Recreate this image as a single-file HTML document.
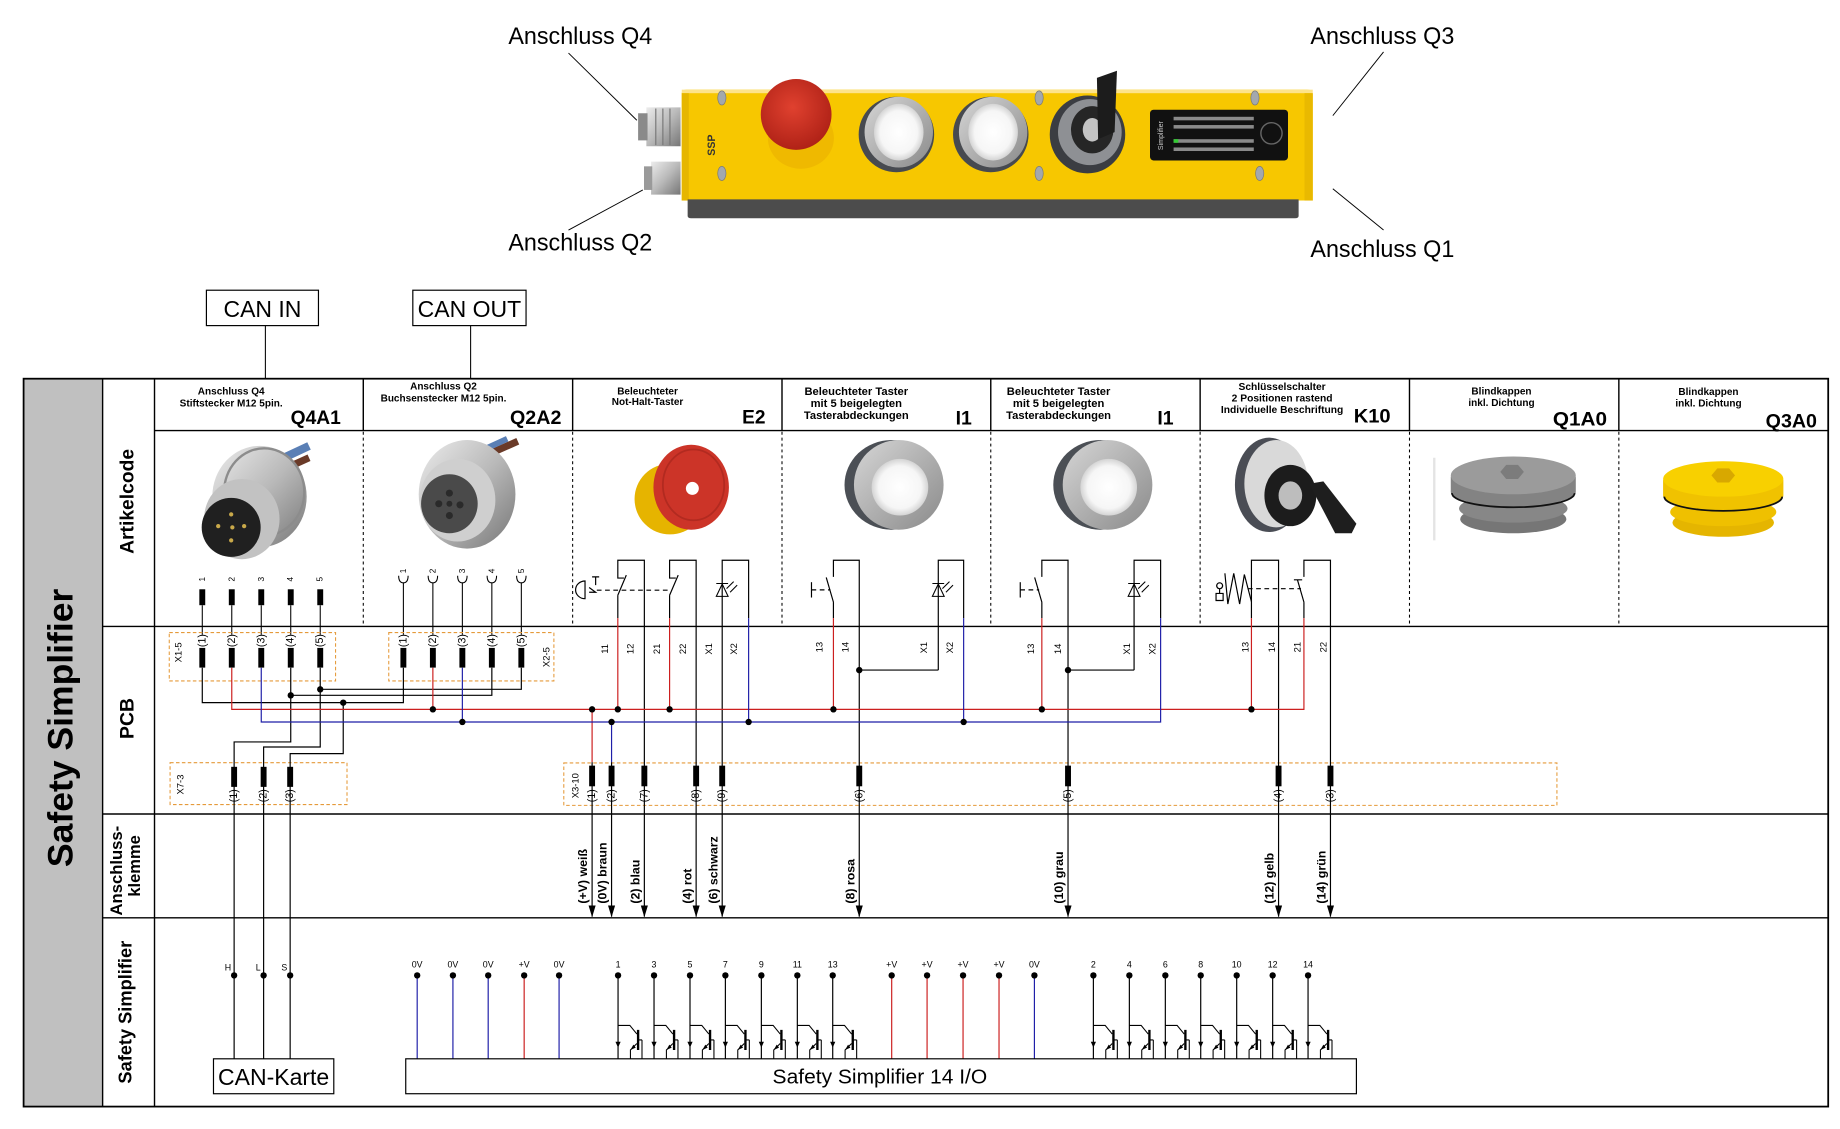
<!DOCTYPE html>
<html><head><meta charset="utf-8"><style>
html,body{margin:0;padding:0;background:#fff;}
svg{display:block;}
text{font-family:"Liberation Sans",Arial,sans-serif;}
</style></head><body>
<svg xmlns="http://www.w3.org/2000/svg" width="1840" height="1129" viewBox="0 0 1560 957" preserveAspectRatio="none">
<defs>
 <radialGradient id="red" cx="0.45" cy="0.4" r="0.6"><stop offset="0" stop-color="#e0412f"/><stop offset="1" stop-color="#b02217"/></radialGradient>
 <radialGradient id="wht" cx="0.5" cy="0.5" r="0.5"><stop offset="0" stop-color="#ffffff"/><stop offset="0.75" stop-color="#f6f6f6"/><stop offset="1" stop-color="#d4d4d4"/></radialGradient>
 <linearGradient id="ring" x1="0" y1="0" x2="1" y2="1"><stop offset="0" stop-color="#d6d6d6"/><stop offset="1" stop-color="#8a8a8a"/></linearGradient>
 <linearGradient id="silver" x1="0" y1="0" x2="1" y2="1"><stop offset="0" stop-color="#ececec"/><stop offset="0.5" stop-color="#b9b9b9"/><stop offset="1" stop-color="#767676"/></linearGradient>
</defs>
<rect width="1560" height="957" fill="#fff"/>

<!-- top labels -->
<g font-size="20" fill="#000">
<text x="431" y="37.5" textLength="122" lengthAdjust="spacingAndGlyphs">Anschluss Q4</text>
<text x="1111" y="37.5" textLength="122" lengthAdjust="spacingAndGlyphs">Anschluss Q3</text>
<text x="431" y="212.5" textLength="122" lengthAdjust="spacingAndGlyphs">Anschluss Q2</text>
<text x="1111" y="218" textLength="122" lengthAdjust="spacingAndGlyphs">Anschluss Q1</text>
</g>
<g stroke="#000" stroke-width="0.8">
<line x1="482" y1="45" x2="540" y2="102"/>
<line x1="1173" y1="44" x2="1130" y2="98"/>
<line x1="482" y1="195" x2="545" y2="161"/>
<line x1="1173" y1="195" x2="1130" y2="160"/>
</g>

<!-- device -->
<g>
<path d="M548,91 h29 v33 h-29 z" fill="url(#silver)"/>
<rect x="541" y="96" width="8" height="23" fill="#8a8a8a"/>
<g stroke="#777" stroke-width="1"><line x1="556" y1="92" x2="556" y2="123"/><line x1="562" y1="92" x2="562" y2="123"/><line x1="568" y1="92" x2="568" y2="123"/></g>
<path d="M552,137 h25 v28 h-25 z" fill="url(#silver)"/>
<rect x="546" y="141" width="7" height="20" fill="#9a9a9a"/>
<path d="M578,79 Q578,76 582,76 H1108 Q1113,76 1113,80 V170 H578 Z" fill="#f7c700"/>
<rect x="578" y="76" width="535" height="3" fill="#fde38a"/>
<rect x="1106" y="79" width="7" height="91" fill="#e9b900"/>
<rect x="578" y="79" width="6" height="91" fill="#e6b600"/>
<path d="M583,169 H1101 V183 Q1101,185 1098,185 H586 Q583,185 583,183 Z" fill="#4c4c4c"/>
<text transform="translate(606,123) rotate(-90)" font-size="9" font-weight="bold" fill="#333" text-anchor="middle">SSP</text>
<g fill="#a3a8ad" stroke="#7a7a7a" stroke-width="0.6">
<ellipse cx="612" cy="83" rx="3.5" ry="6"/><ellipse cx="612" cy="147" rx="3.5" ry="6"/>
<ellipse cx="881" cy="83" rx="3.5" ry="6"/><ellipse cx="881" cy="147" rx="3.5" ry="6"/>
<ellipse cx="1064" cy="83" rx="3.5" ry="6"/><ellipse cx="1068" cy="147" rx="3.5" ry="6"/>
</g>
<ellipse cx="679" cy="117" rx="28" ry="26" fill="#efb900"/>
<ellipse cx="675" cy="97" rx="30" ry="30" fill="url(#red)"/>
<ellipse cx="760" cy="114" rx="32" ry="32" fill="#474a50"/>
<ellipse cx="762" cy="112" rx="29" ry="30" fill="url(#ring)"/>
<ellipse cx="762" cy="112" rx="21" ry="24" fill="url(#wht)"/>
<ellipse cx="840" cy="114" rx="32" ry="32" fill="#474a50"/>
<ellipse cx="842" cy="112" rx="29" ry="30" fill="url(#ring)"/>
<ellipse cx="842" cy="112" rx="21" ry="24" fill="url(#wht)"/>
<ellipse cx="922" cy="114" rx="32" ry="33" fill="#3b3d42"/>
<ellipse cx="924" cy="112" rx="27" ry="28" fill="#8e9094"/>
<ellipse cx="926" cy="110" rx="18" ry="20" fill="#262626"/>
<ellipse cx="926" cy="110" rx="8" ry="10" fill="#c4c4c4"/>
<path d="M930,66 L947,60 L945,112 L931,118 Z" fill="#1c1c1c"/>
<rect x="975" y="93" width="117" height="43" rx="3" fill="#111"/>
<g fill="#8a8a8a">
<rect x="995" y="99" width="68" height="3"/>
<rect x="995" y="106" width="68" height="3"/>
<rect x="995" y="118" width="68" height="3"/>
<rect x="995" y="125" width="68" height="3"/>
</g>
<rect x="995" y="118" width="4" height="3" fill="#3c3"/>
<circle cx="1078" cy="113" r="9" fill="none" stroke="#666" stroke-width="1.2"/>
<text transform="translate(986,115) rotate(-90)" font-size="6" fill="#ccc" text-anchor="middle">Simplifier</text>
</g>

<!-- CAN boxes -->
<rect x="175" y="246" width="95" height="30" fill="none" stroke="#000" stroke-width="1"/>
<text x="222.5" y="268.5" font-size="19.5" text-anchor="middle">CAN IN</text>
<rect x="350" y="246" width="96" height="30" fill="none" stroke="#000" stroke-width="1"/>
<text x="398" y="268.5" font-size="19.5" text-anchor="middle">CAN OUT</text>
<g stroke="#000" stroke-width="0.9"><line x1="225" y1="276" x2="225" y2="321"/><line x1="399" y1="276" x2="399" y2="321"/></g>

<!-- table frame -->
<rect x="20" y="321" width="67" height="617" fill="#c0c0c0"/>
<g stroke="#000" stroke-width="1.2" fill="none">
<rect x="20" y="321" width="1530" height="617" stroke-width="1.5"/>
<line x1="87" y1="321" x2="87" y2="938"/>
<line x1="131" y1="321" x2="131" y2="938"/>
<line x1="131" y1="365" x2="1550" y2="365"/>
<line x1="87" y1="531" x2="1550" y2="531"/>
<line x1="87" y1="690" x2="1550" y2="690"/>
<line x1="87" y1="778" x2="1550" y2="778"/>
<line x1="308" y1="321" x2="308" y2="365"/>
<line x1="485.5" y1="321" x2="485.5" y2="365"/>
<line x1="663" y1="321" x2="663" y2="365"/>
<line x1="840" y1="321" x2="840" y2="365"/>
<line x1="1017.5" y1="321" x2="1017.5" y2="365"/>
<line x1="1195" y1="321" x2="1195" y2="365"/>
<line x1="1372.5" y1="321" x2="1372.5" y2="365"/>
</g>
<g stroke="#000" stroke-width="0.9" stroke-dasharray="2.5 2.5">
<line x1="308" y1="366" x2="308" y2="529"/>
<line x1="485.5" y1="366" x2="485.5" y2="529"/>
<line x1="663" y1="366" x2="663" y2="529"/>
<line x1="840" y1="366" x2="840" y2="529"/>
<line x1="1017.5" y1="366" x2="1017.5" y2="529"/>
<line x1="1195" y1="366" x2="1195" y2="529"/>
<line x1="1372.5" y1="366" x2="1372.5" y2="529"/>
</g>

<!-- row labels -->
<g font-weight="bold" text-anchor="middle" dominant-baseline="central">
<text transform="translate(52,617) rotate(-90)" font-size="29.5" textLength="236" lengthAdjust="spacingAndGlyphs">Safety Simplifier</text>
<text transform="translate(108,425) rotate(-90)" font-size="16.5" textLength="89" lengthAdjust="spacingAndGlyphs">Artikelcode</text>
<text transform="translate(108,609) rotate(-90)" font-size="16.5">PCB</text>
<text transform="translate(99,738) rotate(-90)" font-size="14" textLength="76" lengthAdjust="spacingAndGlyphs">Anschluss-</text>
<text transform="translate(114.5,734) rotate(-90)" font-size="14">klemme</text>
<text transform="translate(106,858) rotate(-90)" font-size="15.5" textLength="121" lengthAdjust="spacingAndGlyphs">Safety Simplifier</text>
</g>

<!-- header texts -->
<g font-weight="bold" text-anchor="middle" font-size="8.5">
<text x="196" y="334.5">Anschluss Q4</text>
<text x="196" y="344.5">Stiftstecker M12 5pin.</text>
<text x="376" y="330">Anschluss Q2</text>
<text x="376" y="340.5">Buchsenstecker M12 5pin.</text>
<text x="549" y="334.5">Beleuchteter</text>
<text x="549" y="343.5">Not-Halt-Taster</text>
<text x="726" y="335" font-size="9.5">Beleuchteter Taster</text>
<text x="726" y="345" font-size="9.5">mit 5 beigelegten</text>
<text x="726" y="355" font-size="9.5">Tasterabdeckungen</text>
<text x="897.5" y="335" font-size="9.5">Beleuchteter Taster</text>
<text x="897.5" y="345" font-size="9.5">mit 5 beigelegten</text>
<text x="897.5" y="355" font-size="9.5">Tasterabdeckungen</text>
<text x="1087" y="330.5" font-size="8.7">Schlüsselschalter</text>
<text x="1087" y="340.5" font-size="8.7">2 Positionen rastend</text>
<text x="1087" y="350" font-size="8.7">Individuelle Beschriftung</text>
<text x="1273" y="334.5">Blindkappen</text>
<text x="1273" y="344">inkl. Dichtung</text>
<text x="1448.5" y="335">Blindkappen</text>
<text x="1448.5" y="344.5">inkl. Dichtung</text>
</g>
<g font-weight="bold" text-anchor="end" font-size="16.5">
<text x="289" y="359.5" textLength="42.6" lengthAdjust="spacingAndGlyphs">Q4A1</text>
<text x="476" y="359.5" textLength="43.6" lengthAdjust="spacingAndGlyphs">Q2A2</text>
<text x="649" y="359" textLength="19.8" lengthAdjust="spacingAndGlyphs">E2</text>
<text x="824" y="360">I1</text>
<text x="995" y="360">I1</text>
<text x="1179" y="358" textLength="31.3" lengthAdjust="spacingAndGlyphs">K10</text>
<text x="1362.5" y="360.5" textLength="45.9" lengthAdjust="spacingAndGlyphs">Q1A0</text>
<text x="1540.5" y="362.5" textLength="43.5" lengthAdjust="spacingAndGlyphs">Q3A0</text>
</g>

<!-- artikel images -->
<path d="M232,392 L262,378" stroke="#5a7fb5" stroke-width="7"/>
<path d="M240,398 L262,388" stroke="#6a3a28" stroke-width="6"/>
<ellipse cx="220" cy="421" rx="40" ry="43" fill="url(#silver)"/>
<ellipse cx="224" cy="417" rx="34" ry="37" fill="none" stroke="#8c8c8c" stroke-width="2"/>
<ellipse cx="205" cy="440" rx="32" ry="34" fill="#c2c2c2"/>
<ellipse cx="196" cy="447" rx="25" ry="25" fill="#202020"/>
<g fill="#c9a94a"><circle cx="196" cy="436" r="1.8"/><circle cx="185" cy="446" r="1.8"/><circle cx="197" cy="447" r="1.8"/><circle cx="207" cy="446" r="1.8"/><circle cx="196" cy="458" r="1.8"/></g>
<path d="M412,386 L439,374" stroke="#6a3a28" stroke-width="6"/>
<path d="M408,382 L430,372" stroke="#5a7fb5" stroke-width="5"/>
<ellipse cx="396" cy="419" rx="41" ry="46" fill="url(#silver)"/>
<ellipse cx="388" cy="424" rx="32" ry="35" fill="#cfcfcf"/>
<ellipse cx="381" cy="427" rx="24" ry="25" fill="#4a4a4a"/>
<g fill="#2a2a2a"><circle cx="381" cy="418" r="3"/><circle cx="372" cy="427" r="3"/><circle cx="390" cy="428" r="3"/><circle cx="381" cy="437" r="3"/><circle cx="381" cy="427" r="2.5"/></g>
<ellipse cx="568" cy="423" rx="30" ry="30" fill="#e6b400"/>
<ellipse cx="586" cy="413" rx="32" ry="36" fill="#cc3428"/>
<ellipse cx="588" cy="411" rx="26" ry="30" fill="none" stroke="#b22a20" stroke-width="1.5"/>
<circle cx="587" cy="414" r="5.5" fill="#fff"/>
<ellipse cx="756" cy="411" rx="40" ry="38" fill="#4b4f55"/>
<ellipse cx="762" cy="411" rx="38" ry="38" fill="url(#ring)"/>
<ellipse cx="763" cy="413" rx="24" ry="24" fill="url(#wht)"/>
<ellipse cx="933" cy="411" rx="40" ry="38" fill="#4b4f55"/>
<ellipse cx="939" cy="411" rx="38" ry="38" fill="url(#ring)"/>
<ellipse cx="940" cy="413" rx="24" ry="24" fill="url(#wht)"/>
<ellipse cx="1076" cy="411" rx="29" ry="40" fill="#4a4d55"/>
<ellipse cx="1082" cy="410" rx="27" ry="37" fill="#d9d9d9"/>
<ellipse cx="1094" cy="420" rx="22" ry="26" fill="#1c1c1c"/>
<ellipse cx="1094" cy="420" rx="10" ry="12" fill="#bdbdbd"/>
<path d="M1110,410 L1122,408 L1150,444 L1146,452 L1132,452 Z" fill="#1e1e1e"/>
<line x1="1216" y1="388" x2="1216" y2="458" stroke="#e4e4e4" stroke-width="2"/>
<ellipse cx="1283" cy="440" rx="45" ry="12" fill="#767676"/>
<ellipse cx="1283" cy="431" rx="46" ry="12" fill="#878787"/>
<path d="M1230,404 V417 A53,12 0 0 0 1336,417 V404 Z" fill="#838383"/>
<path d="M1231,418 A52,12 0 0 0 1335,418" fill="none" stroke="#111" stroke-width="1.5"/>
<ellipse cx="1283" cy="403" rx="53" ry="16" fill="#9b9b9b"/>
<polygon points="1272,400 1277,394 1287,394 1292,400 1287,406 1277,406" fill="#7c7c7c"/>
<ellipse cx="1461" cy="443" rx="43" ry="12" fill="#e5b500"/>
<ellipse cx="1461" cy="434" rx="45" ry="12" fill="#efc000"/>
<path d="M1410,407 V420 A51,12 0 0 0 1512,420 V407 Z" fill="#f0c200"/>
<path d="M1411,421 A50,12 0 0 0 1511,421" fill="none" stroke="#111" stroke-width="1.5"/>
<ellipse cx="1461" cy="406" rx="51" ry="15" fill="#f8d000"/>
<polygon points="1451,403 1456,397 1466,397 1471,403 1466,409 1456,409" fill="#d8a800"/>

<!-- Q4A1 / Q2A2 pins artikel -->
<g font-size="7" text-anchor="middle" dominant-baseline="central">
<text transform="translate(171.5,491) rotate(-90)">1</text>
<text transform="translate(196.5,491) rotate(-90)">2</text>
<text transform="translate(221.5,491) rotate(-90)">3</text>
<text transform="translate(246.5,491) rotate(-90)">4</text>
<text transform="translate(271.5,491) rotate(-90)">5</text>
<text transform="translate(342,484) rotate(-90)">1</text>
<text transform="translate(367,484) rotate(-90)">2</text>
<text transform="translate(392,484) rotate(-90)">3</text>
<text transform="translate(417,484) rotate(-90)">4</text>
<text transform="translate(442,484) rotate(-90)">5</text>
</g>
<g fill="#000">
<rect x="169" y="499.5" width="5" height="13.5"/><rect x="194" y="499.5" width="5" height="13.5"/><rect x="219" y="499.5" width="5" height="13.5"/><rect x="244" y="499.5" width="5" height="13.5"/><rect x="269" y="499.5" width="5" height="13.5"/>
</g>
<g stroke="#000" stroke-width="0.9" fill="none">
<path d="M171.5,513 V538 M196.5,513 V538 M221.5,513 V538 M246.5,513 V538 M271.5,513 V538"/>
<path d="M338,488 Q338,494 342,494 Q346,494 346,488 M363,488 Q363,494 367,494 Q371,494 371,488 M388,488 Q388,494 392,494 Q396,494 396,488 M413,488 Q413,494 417,494 Q421,494 421,488 M438,488 Q438,494 442,494 Q446,494 446,488"/>
<path d="M342,494 V538 M367,494 V538 M392,494 V538 M417,494 V538 M442,494 V538"/>
</g>

<!-- orange dashed boxes -->
<g fill="none" stroke="#e59a3a" stroke-width="0.9" stroke-dasharray="3 2">
<rect x="143.5" y="536.2" width="141" height="41"/>
<rect x="329.6" y="536.2" width="140" height="41"/>
<rect x="144.2" y="646.5" width="150" height="35.5"/>
<rect x="478" y="646.7" width="842" height="36"/>
</g>
<g font-size="8" text-anchor="middle" dominant-baseline="central">
<text transform="translate(151,553) rotate(-90)">X1-5</text>
<text transform="translate(463,557) rotate(-90)">X2-5</text>
<text transform="translate(152.6,665) rotate(-90)">X7-3</text>
<text transform="translate(487.5,666) rotate(-90)">X3-10</text>
</g>

<!-- PCB wiring -->
<g fill="none" stroke-width="1">
<g stroke="#000">
<path d="M171.5,566 V595.6 H342 V566"/>
<path d="M246.5,566 V589.4 H417 V566"/>
<path d="M271.5,566 V584.3 H442 V566"/>
<path d="M246.5,589.4 V628.9 H198.5 V897.5"/>
<path d="M271.5,584.3 V633.2 H223.5 V897.5"/>
<path d="M291,595.6 V638.8 H246 V897.5"/>
<!-- E2 -->
<path d="M546.3,777 V474.9 H523.8 V490 H529"/>
<path d="M523.8,504.6 L531,487.5 M523.8,504.6 V524"/>
<path d="M590.2,777 V474.9 H567.7 V490 H573"/>
<path d="M567.7,504.6 L575,487.5 M567.7,504.6 V524"/>
<path d="M612.3,777 V474.9 H634.7 V524"/>
<path d="M496,492.5 A8,7.5 0 0 0 496,507.5 Z"/>
<path d="M505,496 V489 M502,489 H508 M499.5,498 L505,502 L499.5,502"/>
<!-- I1 #1 -->
<path d="M728.5,777 V474.9 H706.6 V489"/>
<path d="M706.6,510.4 L700.5,489.5 M706.6,510.4 V524"/>
<path d="M688,493.5 V506.5"/>
<path d="M795.5,568 V474.9 H817 V524"/>
<path d="M728.5,568 H795.5"/>
<!-- I1 #2 -->
<path d="M905.5,777 V474.9 H883.3 V489"/>
<path d="M883.3,510.4 L877.2,489.5 M883.3,510.4 V524"/>
<path d="M865,493.5 V506.5"/>
<path d="M961.5,568 V474.9 H984 V524"/>
<path d="M905.5,568 H961.5"/>
<!-- K10 -->
<path d="M1084,777 V474.9 H1061 V524"/>
<path d="M1128,777 V474.9 H1105.5 V489"/>
<path d="M1105.5,510.4 L1100,491.5 M1097,491.5 H1104 M1105.5,510.4 V524"/>
<path d="M1038.5,486 L1041,512 L1046,486 L1051,512 L1055,487 L1061,510"/>
<path d="M1031,503 h6 v6 h-6 z M1034,503 v-4 a2.5,2.5 0 1 1 0.1,0"/>
<path d="M502,646 V777 M518.5,646 V777"/>
<path d="M524,826.8 V897.5 M554.5,826.8 V897.5 M585,826.8 V897.5 M615,826.8 V897.5 M645.5,826.8 V897.5 M676,826.8 V897.5 M706,826.8 V897.5"/>
<path d="M927,826.8 V897.5 M957.5,826.8 V897.5 M988,826.8 V897.5 M1018,826.8 V897.5 M1048.5,826.8 V897.5 M1079,826.8 V897.5 M1109,826.8 V897.5"/>
</g>
<g stroke="#000" stroke-dasharray="4 3">
<path d="M506,500.3 H569"/>
<path d="M688,500 H704"/>
<path d="M865,500 H881"/>
<path d="M1058,499 H1103"/>
</g>
<g stroke="#cc1f1f">
<path d="M196.5,566 V601.3 H1105.5 V524"/>
<path d="M367,566 V601.3"/>
<path d="M502,601.3 V646"/>
<path d="M523.8,524 V601.3 M567.7,524 V601.3 M706.6,524 V601.3 M883.3,524 V601.3 M1061,524 V601.3"/>
<path d="M444.4,826.8 V897.5 M756,826.8 V897.5 M786,826.8 V897.5 M816.5,826.8 V897.5 M847,826.8 V897.5"/>
</g>
<g stroke="#1f1fa8">
<path d="M221.5,566 V612 H984 V524"/>
<path d="M392,566 V612"/>
<path d="M518.5,612 V646"/>
<path d="M634.7,524 V612 M817,524 V612"/>
<path d="M353.7,826.8 V897.5 M384,826.8 V897.5 M413.9,826.8 V897.5 M474,826.8 V897.5 M877,826.8 V897.5"/>
</g>
</g>

<!-- LED symbols (triangle up, bar on top) -->
<g fill="none" stroke="#000" stroke-width="0.9">
<path d="M607.3,505.5 H617.3 L612.3,495 Z M607.3,494.6 H617.3 M616,499 l6,-6 M619,502 l6,-6"/>
<path d="M790.5,505.5 H800.5 L795.5,495 Z M790.5,494.6 H800.5 M799,499 l6,-6 M802,502 l6,-6"/>
<path d="M956.5,505.5 H966.5 L961.5,495 Z M956.5,494.6 H966.5 M965,499 l6,-6 M968,502 l6,-6"/>
</g>

<!-- PCB pin rects and symbols -->
<g fill="#000">
<rect x="169" y="549.2" width="5" height="16.7"/><rect x="194" y="549.2" width="5" height="16.7"/><rect x="219" y="549.2" width="5" height="16.7"/><rect x="244" y="549.2" width="5" height="16.7"/><rect x="269" y="549.2" width="5" height="16.7"/>
<rect x="339.5" y="549.2" width="5" height="16.7"/><rect x="364.5" y="549.2" width="5" height="16.7"/><rect x="389.5" y="549.2" width="5" height="16.7"/><rect x="414.5" y="549.2" width="5" height="16.7"/><rect x="439.5" y="549.2" width="5" height="16.7"/>
<rect x="196" y="650" width="5" height="17"/><rect x="221" y="650" width="5" height="17"/><rect x="243.5" y="650" width="5" height="17"/>
<rect x="499.5" y="649" width="5" height="17.5"/><rect x="516" y="649" width="5" height="17.5"/><rect x="543.8" y="649" width="5" height="17.5"/><rect x="587.7" y="649" width="5" height="17.5"/><rect x="609.8" y="649" width="5" height="17.5"/><rect x="726" y="649" width="5" height="17.5"/><rect x="903" y="649" width="5" height="17.5"/><rect x="1081.5" y="649" width="5" height="17.5"/><rect x="1125.5" y="649" width="5" height="17.5"/>
</g>
<g font-size="9" text-anchor="middle" dominant-baseline="central">
<text transform="translate(171.5,543) rotate(-90)">(1)</text>
<text transform="translate(196.5,543) rotate(-90)">(2)</text>
<text transform="translate(221.5,543) rotate(-90)">(3)</text>
<text transform="translate(246.5,543) rotate(-90)">(4)</text>
<text transform="translate(271.5,543) rotate(-90)">(5)</text>
<text transform="translate(342,543) rotate(-90)">(1)</text>
<text transform="translate(367,543) rotate(-90)">(2)</text>
<text transform="translate(392,543) rotate(-90)">(3)</text>
<text transform="translate(417,543) rotate(-90)">(4)</text>
<text transform="translate(442,543) rotate(-90)">(5)</text>
<text transform="translate(198.5,674.5) rotate(-90)">(1)</text>
<text transform="translate(223.5,674.5) rotate(-90)">(2)</text>
<text transform="translate(246,674.5) rotate(-90)">(3)</text>
<text transform="translate(502,674.5) rotate(-90)">(1)</text>
<text transform="translate(518.5,674.5) rotate(-90)">(2)</text>
<text transform="translate(546.3,674.5) rotate(-90)">(7)</text>
<text transform="translate(590.2,674.5) rotate(-90)">(8)</text>
<text transform="translate(612.3,674.5) rotate(-90)">(9)</text>
<text transform="translate(728.5,674.5) rotate(-90)">(6)</text>
<text transform="translate(905.5,674.5) rotate(-90)">(5)</text>
<text transform="translate(1084,674.5) rotate(-90)">(4)</text>
<text transform="translate(1128,674.5) rotate(-90)">(3)</text>
</g>

<!-- PCB contact labels -->
<g font-size="8" text-anchor="middle" dominant-baseline="central">
<text transform="translate(512.7,550) rotate(-90)">11</text>
<text transform="translate(534.2,550) rotate(-90)">12</text>
<text transform="translate(556.7,550) rotate(-90)">21</text>
<text transform="translate(578.6,550) rotate(-90)">22</text>
<text transform="translate(600.8,550) rotate(-90)">X1</text>
<text transform="translate(622,550) rotate(-90)">X2</text>
<text transform="translate(694.5,548.5) rotate(-90)">13</text>
<text transform="translate(716.5,548.5) rotate(-90)">14</text>
<text transform="translate(783,549) rotate(-90)">X1</text>
<text transform="translate(805,549) rotate(-90)">X2</text>
<text transform="translate(873.5,550) rotate(-90)">13</text>
<text transform="translate(896.5,550) rotate(-90)">14</text>
<text transform="translate(955,550) rotate(-90)">X1</text>
<text transform="translate(976.5,550) rotate(-90)">X2</text>
<text transform="translate(1055.6,548.5) rotate(-90)">13</text>
<text transform="translate(1078,548.5) rotate(-90)">14</text>
<text transform="translate(1099.8,548.5) rotate(-90)">21</text>
<text transform="translate(1121.7,548.5) rotate(-90)">22</text>
</g>

<!-- junction dots -->
<g fill="#000">
<circle cx="246.5" cy="589.4" r="2.7"/><circle cx="271.5" cy="584.3" r="2.7"/><circle cx="291" cy="595.6" r="2.7"/>
<circle cx="367" cy="601.3" r="2.7"/><circle cx="392" cy="612" r="2.7"/>
<circle cx="502" cy="601.3" r="2.7"/><circle cx="523.8" cy="601.3" r="2.7"/><circle cx="567.7" cy="601.3" r="2.7"/><circle cx="706.6" cy="601.3" r="2.7"/><circle cx="883.3" cy="601.3" r="2.7"/><circle cx="1061" cy="601.3" r="2.7"/>
<circle cx="518.5" cy="612" r="2.7"/><circle cx="634.7" cy="612" r="2.7"/><circle cx="817" cy="612" r="2.7"/>
<circle cx="728.5" cy="568" r="2.7"/><circle cx="905.5" cy="568" r="2.7"/>
</g>

<!-- arrows -->
<g fill="#000">
<polygon points="499,767.5 505,767.5 502,777.5"/>
<polygon points="515.5,767.5 521.5,767.5 518.5,777.5"/>
<polygon points="543.3,767.5 549.3,767.5 546.3,777.5"/>
<polygon points="587.2,767.5 593.2,767.5 590.2,777.5"/>
<polygon points="609.3,767.5 615.3,767.5 612.3,777.5"/>
<polygon points="725.5,767.5 731.5,767.5 728.5,777.5"/>
<polygon points="902.5,767.5 908.5,767.5 905.5,777.5"/>
<polygon points="1081,767.5 1087,767.5 1084,777.5"/>
<polygon points="1125,767.5 1131,767.5 1128,777.5"/>
</g>
<g font-size="10.5" font-weight="bold" dominant-baseline="central">
<text transform="translate(494.3,766) rotate(-90)">(+V) weiß</text>
<text transform="translate(510.8,766) rotate(-90)">(0V) braun</text>
<text transform="translate(538.8,766) rotate(-90)">(2) blau</text>
<text transform="translate(582.7,766) rotate(-90)">(4) rot</text>
<text transform="translate(604.8,766) rotate(-90)">(6) schwarz</text>
<text transform="translate(721,766) rotate(-90)">(8) rosa</text>
<text transform="translate(898,766) rotate(-90)">(10) grau</text>
<text transform="translate(1076.5,766) rotate(-90)">(12) gelb</text>
<text transform="translate(1120.5,766) rotate(-90)">(14) grün</text>
</g>

<!-- Safety Simplifier section -->
<g fill="#000">
<circle cx="198.5" cy="826.8" r="2.7"/><circle cx="223.5" cy="826.8" r="2.7"/><circle cx="246" cy="826.8" r="2.7"/>
<circle cx="353.7" cy="826.8" r="2.7"/><circle cx="384" cy="826.8" r="2.7"/><circle cx="413.9" cy="826.8" r="2.7"/><circle cx="444.4" cy="826.8" r="2.7"/><circle cx="474" cy="826.8" r="2.7"/>
<circle cx="524" cy="826.8" r="2.7"/><circle cx="554.5" cy="826.8" r="2.7"/><circle cx="585" cy="826.8" r="2.7"/><circle cx="615" cy="826.8" r="2.7"/><circle cx="645.5" cy="826.8" r="2.7"/><circle cx="676" cy="826.8" r="2.7"/><circle cx="706" cy="826.8" r="2.7"/>
<circle cx="756" cy="826.8" r="2.7"/><circle cx="786" cy="826.8" r="2.7"/><circle cx="816.5" cy="826.8" r="2.7"/><circle cx="847" cy="826.8" r="2.7"/><circle cx="877" cy="826.8" r="2.7"/>
<circle cx="927" cy="826.8" r="2.7"/><circle cx="957.5" cy="826.8" r="2.7"/><circle cx="988" cy="826.8" r="2.7"/><circle cx="1018" cy="826.8" r="2.7"/><circle cx="1048.5" cy="826.8" r="2.7"/><circle cx="1079" cy="826.8" r="2.7"/><circle cx="1109" cy="826.8" r="2.7"/>
</g>
<g font-size="7.5" text-anchor="end">
<text x="196" y="822.5">H</text><text x="221" y="822.5">L</text><text x="243.5" y="822.5">S</text>
</g>
<g font-size="7.5" text-anchor="middle">
<text x="353.7" y="820">0V</text><text x="384" y="820">0V</text><text x="413.9" y="820">0V</text><text x="444.4" y="820">+V</text><text x="474" y="820">0V</text>
<text x="524" y="820">1</text><text x="554.5" y="820">3</text><text x="585" y="820">5</text><text x="615" y="820">7</text><text x="645.5" y="820">9</text><text x="676" y="820">11</text><text x="706" y="820">13</text>
<text x="756" y="820">+V</text><text x="786" y="820">+V</text><text x="816.5" y="820">+V</text><text x="847" y="820">+V</text><text x="877" y="820">0V</text>
<text x="927" y="820">2</text><text x="957.5" y="820">4</text><text x="988" y="820">6</text><text x="1018" y="820">8</text><text x="1048.5" y="820">10</text><text x="1079" y="820">12</text><text x="1109" y="820">14</text>
</g>

<!-- transistors -->
<g stroke="#000" fill="none" stroke-width="0.9">
<path d="M524,869.2 h10 l6,7.3 M544.3,881.5 V897.5 M541,881.5 h3.3 M540,884.5 l-5.5,5.5 V897.5
M554.5,869.2 h10 l6,7.3 M574.8,881.5 V897.5 M571.5,881.5 h3.3 M570.5,884.5 l-5.5,5.5 V897.5
M585,869.2 h10 l6,7.3 M605.3,881.5 V897.5 M602,881.5 h3.3 M601,884.5 l-5.5,5.5 V897.5
M615,869.2 h10 l6,7.3 M635.3,881.5 V897.5 M632,881.5 h3.3 M631,884.5 l-5.5,5.5 V897.5
M645.5,869.2 h10 l6,7.3 M665.8,881.5 V897.5 M662.5,881.5 h3.3 M661.5,884.5 l-5.5,5.5 V897.5
M676,869.2 h10 l6,7.3 M696.3,881.5 V897.5 M693,881.5 h3.3 M692,884.5 l-5.5,5.5 V897.5
M706,869.2 h10 l6,7.3 M726.3,881.5 V897.5 M723,881.5 h3.3 M722,884.5 l-5.5,5.5 V897.5
M927,869.2 h10 l6,7.3 M947.3,881.5 V897.5 M944,881.5 h3.3 M943,884.5 l-5.5,5.5 V897.5
M957.5,869.2 h10 l6,7.3 M977.8,881.5 V897.5 M974.5,881.5 h3.3 M973.5,884.5 l-5.5,5.5 V897.5
M988,869.2 h10 l6,7.3 M1008.3,881.5 V897.5 M1005,881.5 h3.3 M1004,884.5 l-5.5,5.5 V897.5
M1018,869.2 h10 l6,7.3 M1038.3,881.5 V897.5 M1035,881.5 h3.3 M1034,884.5 l-5.5,5.5 V897.5
M1048.5,869.2 h10 l6,7.3 M1068.8,881.5 V897.5 M1065.5,881.5 h3.3 M1064.5,884.5 l-5.5,5.5 V897.5
M1079,869.2 h10 l6,7.3 M1099.3,881.5 V897.5 M1096,881.5 h3.3 M1095,884.5 l-5.5,5.5 V897.5
M1109,869.2 h10 l6,7.3 M1129.3,881.5 V897.5 M1126,881.5 h3.3 M1125,884.5 l-5.5,5.5 V897.5"/>
</g>
<g stroke="#000" stroke-width="2">
<path d="M541,873 V890 M571.5,873 V890 M602,873 V890 M632,873 V890 M662.5,873 V890 M693,873 V890 M723,873 V890 M944,873 V890 M974.5,873 V890 M1005,873 V890 M1035,873 V890 M1065.5,873 V890 M1096,873 V890 M1126,873 V890"/>
</g>
<g fill="#000">
<path d="M521.8,883 h4.4 l-2.2,5z M552.3,883 h4.4 l-2.2,5z M582.8,883 h4.4 l-2.2,5z M612.8,883 h4.4 l-2.2,5z M643.3,883 h4.4 l-2.2,5z M673.8,883 h4.4 l-2.2,5z M703.8,883 h4.4 l-2.2,5z M924.8,883 h4.4 l-2.2,5z M955.3,883 h4.4 l-2.2,5z M985.8,883 h4.4 l-2.2,5z M1015.8,883 h4.4 l-2.2,5z M1046.3,883 h4.4 l-2.2,5z M1076.8,883 h4.4 l-2.2,5z M1106.8,883 h4.4 l-2.2,5z"/>
<path d="M534.5,890 l4.5,-2 l-2,-2.5z M565,890 l4.5,-2 l-2,-2.5z M595.5,890 l4.5,-2 l-2,-2.5z M625.5,890 l4.5,-2 l-2,-2.5z M656,890 l4.5,-2 l-2,-2.5z M686.5,890 l4.5,-2 l-2,-2.5z M716.5,890 l4.5,-2 l-2,-2.5z M937.5,890 l4.5,-2 l-2,-2.5z M968,890 l4.5,-2 l-2,-2.5z M998.5,890 l4.5,-2 l-2,-2.5z M1028.5,890 l4.5,-2 l-2,-2.5z M1059,890 l4.5,-2 l-2,-2.5z M1089.5,890 l4.5,-2 l-2,-2.5z M1119.5,890 l4.5,-2 l-2,-2.5z"/>
</g>

<!-- bottom boxes -->
<rect x="181" y="897.5" width="102" height="29.6" fill="#fff" stroke="#000" stroke-width="1"/>
<text x="232" y="919.5" font-size="19.5" text-anchor="middle">CAN-Karte</text>
<rect x="344" y="897.5" width="806" height="29.6" fill="#fff" stroke="#000" stroke-width="1"/>
<text x="746" y="918.6" font-size="17.5" text-anchor="middle" textLength="182" lengthAdjust="spacingAndGlyphs">Safety Simplifier 14 I/O</text>
</svg>
</body></html>
